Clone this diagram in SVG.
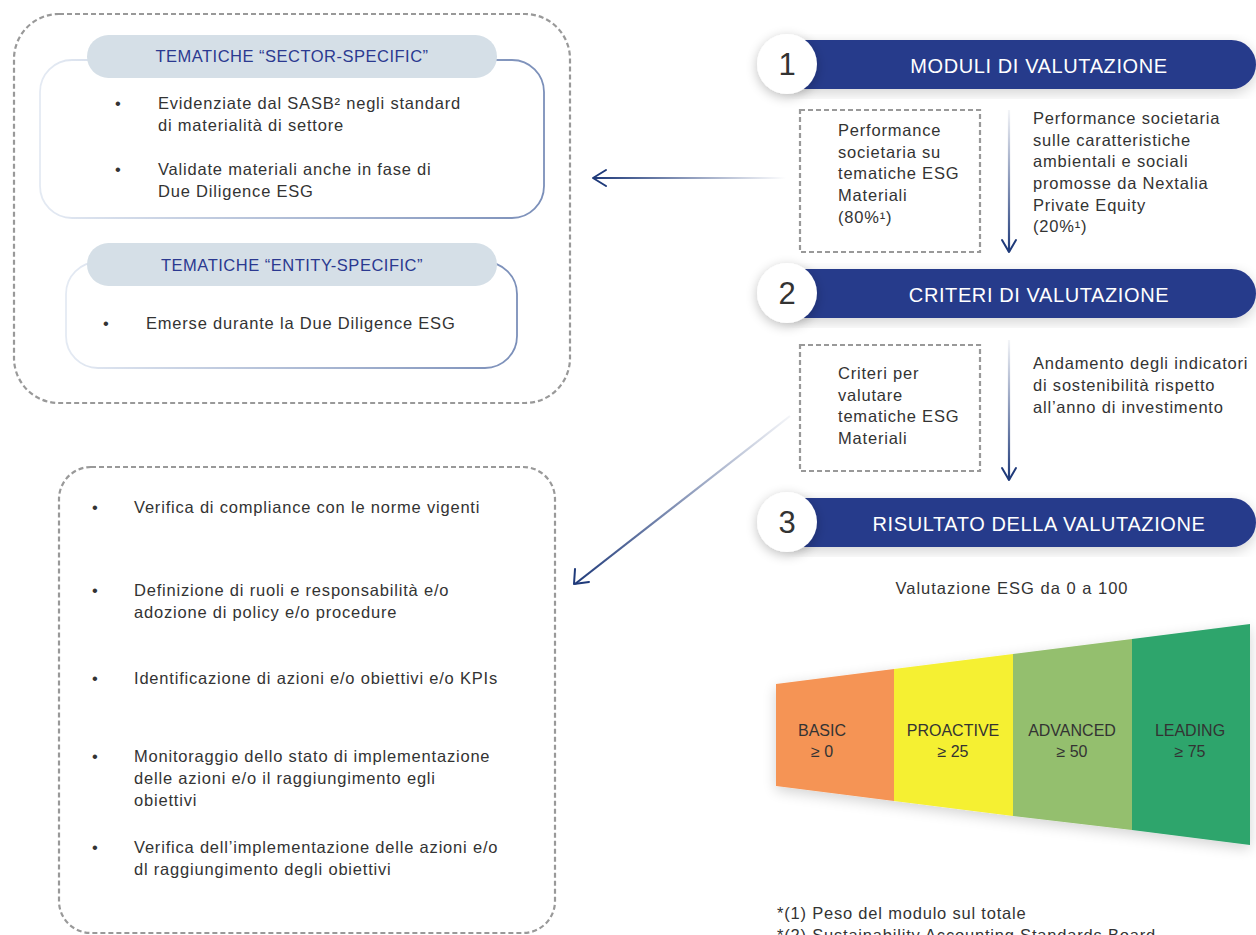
<svg xmlns="http://www.w3.org/2000/svg" width="1256" height="935" viewBox="0 0 1256 935">
<defs>
<style>
.t{font-family:"Liberation Sans",Arial,sans-serif;font-size:16.5px;letter-spacing:0.8px;fill:#333333}
.hd{font-family:"Liberation Sans",Arial,sans-serif;font-size:16.5px;letter-spacing:0.5px;fill:#2b3990;text-anchor:middle}
.bar{fill:#283a8b}
.bt{font-family:"Liberation Sans",Arial,sans-serif;font-size:20px;letter-spacing:0.6px;fill:#ffffff;text-anchor:middle}
.num{font-family:"Liberation Sans",Arial,sans-serif;font-size:31px;fill:#333333;text-anchor:middle}
.dash{fill:none;stroke:#999999;stroke-width:2.2;stroke-dasharray:5 3}
.pill{fill:#d5dfe7}
.lbl{font-family:"Liberation Sans",Arial,sans-serif;font-size:16px;fill:#333333;text-anchor:middle}
.sub{font-family:"Liberation Sans",Arial,sans-serif;font-size:16.5px;letter-spacing:1px;fill:#333333;text-anchor:middle}
.head{fill:none;stroke:#1f3a7a;stroke-width:2;stroke-linecap:round;stroke-linejoin:round}
</style>
<filter id="sh" x="-20%" y="-50%" width="140%" height="200%">
<feGaussianBlur in="SourceAlpha" stdDeviation="6"/>
<feOffset dx="0" dy="3" result="b"/>
<feComponentTransfer><feFuncA type="linear" slope="0.25"/></feComponentTransfer>
<feMerge><feMergeNode/><feMergeNode in="SourceGraphic"/></feMerge>
</filter>
<filter id="sh2" x="-10%" y="-20%" width="120%" height="140%">
<feGaussianBlur in="SourceAlpha" stdDeviation="7"/>
<feOffset dx="0" dy="4" result="b"/>
<feComponentTransfer><feFuncA type="linear" slope="0.18"/></feComponentTransfer>
<feMerge><feMergeNode/><feMergeNode in="SourceGraphic"/></feMerge>
</filter>
<linearGradient id="boxStroke" x1="0" y1="0" x2="1" y2="0">
<stop offset="0" stop-color="#e4eaf3"/>
<stop offset="1" stop-color="#7b8fb9"/>
</linearGradient>
<linearGradient id="hArrow" gradientUnits="userSpaceOnUse" x1="594" y1="0" x2="786" y2="0">
<stop offset="0" stop-color="#1f3a7a"/>
<stop offset="1" stop-color="#1f3a7a" stop-opacity="0"/>
</linearGradient>
<linearGradient id="dArrow" gradientUnits="userSpaceOnUse" x1="574" y1="584" x2="790" y2="416">
<stop offset="0" stop-color="#1f3a7a"/>
<stop offset="1" stop-color="#1f3a7a" stop-opacity="0.05"/>
</linearGradient>
<linearGradient id="v1" gradientUnits="userSpaceOnUse" x1="0" y1="110" x2="0" y2="252">
<stop offset="0" stop-color="#1f3a7a" stop-opacity="0.05"/>
<stop offset="1" stop-color="#1f3a7a"/>
</linearGradient>
<linearGradient id="v2" gradientUnits="userSpaceOnUse" x1="0" y1="340" x2="0" y2="480">
<stop offset="0" stop-color="#1f3a7a" stop-opacity="0.05"/>
<stop offset="1" stop-color="#1f3a7a"/>
</linearGradient>
</defs>
<rect width="1256" height="935" fill="#ffffff"/>

<g id="tematiche-box">
<rect class="dash" x="14" y="14" width="556" height="389" rx="45"/>
</g>

<g id="sector-specific">
<rect x="40" y="60" width="504" height="158" rx="32" fill="#ffffff" stroke="url(#boxStroke)" stroke-width="1.8"/>
<rect class="pill" x="87" y="35" width="410" height="43" rx="21.5"/>
<text class="hd" x="292" y="62">TEMATICHE “SECTOR-SPECIFIC”</text>
<text class="t" x="115" y="109">•</text>
<text class="t" x="158" y="109">Evidenziate dal SASB² negli standard</text>
<text class="t" x="158" y="131">di materialità di settore</text>
<text class="t" x="115" y="175">•</text>
<text class="t" x="158" y="175">Validate materiali anche in fase di</text>
<text class="t" x="158" y="197">Due Diligence ESG</text>
</g>

<g id="entity-specific">
<rect x="66" y="262" width="451" height="106" rx="32" fill="#ffffff" stroke="url(#boxStroke)" stroke-width="1.8"/>
<rect class="pill" x="87" y="243" width="410" height="43" rx="21.5"/>
<text class="hd" x="292" y="271">TEMATICHE “ENTITY-SPECIFIC”</text>
<text class="t" x="103" y="329">•</text>
<text class="t" x="146" y="329">Emerse durante la Due Diligence ESG</text>
</g>

<g id="criteri-box">
<rect class="dash" x="59" y="467" width="496" height="466" rx="32"/>
<text class="t" x="92" y="513">•</text>
<text class="t" x="134" y="513">Verifica di compliance con le norme vigenti</text>
<text class="t" x="92" y="596">•</text>
<text class="t" x="134" y="596">Definizione di ruoli e responsabilità e/o</text>
<text class="t" x="134" y="618">adozione di policy e/o procedure</text>
<text class="t" x="92" y="684">•</text>
<text class="t" x="134" y="684">Identificazione di azioni e/o obiettivi e/o KPIs</text>
<text class="t" x="92" y="762">•</text>
<text class="t" x="134" y="762">Monitoraggio dello stato di implementazione</text>
<text class="t" x="134" y="784">delle azioni e/o il raggiungimento egli</text>
<text class="t" x="134" y="806">obiettivi</text>
<text class="t" x="92" y="853">•</text>
<text class="t" x="134" y="853">Verifica dell’implementazione delle azioni e/o</text>
<text class="t" x="134" y="875">dl raggiungimento degli obiettivi</text>
</g>

<g id="step1">
<rect class="bar" x="780" y="40" width="476" height="49" rx="24.5" filter="url(#sh2)"/>
<circle cx="787" cy="64" r="30" fill="#ffffff" filter="url(#sh)"/>
<text class="num" x="787" y="75">1</text>
<text class="bt" x="1039" y="73">MODULI DI VALUTAZIONE</text>
</g>

<g id="modulo-materiali">
<rect class="dash" x="800" y="110" width="180" height="142"/>
<text class="t" x="838" y="136">Performance</text>
<text class="t" x="838" y="158">societaria su</text>
<text class="t" x="838" y="179">tematiche ESG</text>
<text class="t" x="838" y="201">Materiali</text>
<text class="t" x="838" y="223">(80%¹)</text>
</g>

<g id="modulo-caratteristiche">
<text class="t" x="1033" y="124">Performance societaria</text>
<text class="t" x="1033" y="146">sulle caratteristiche</text>
<text class="t" x="1033" y="167">ambientali e sociali</text>
<text class="t" x="1033" y="189">promosse da Nextalia</text>
<text class="t" x="1033" y="211">Private Equity</text>
<text class="t" x="1033" y="232">(20%¹)</text>
</g>

<g id="step2">
<rect class="bar" x="780" y="269" width="476" height="49" rx="24.5" filter="url(#sh2)"/>
<circle cx="787" cy="293" r="30" fill="#ffffff" filter="url(#sh)"/>
<text class="num" x="787" y="304">2</text>
<text class="bt" x="1039" y="302">CRITERI DI VALUTAZIONE</text>
</g>

<g id="criteri-materiali">
<rect class="dash" x="800" y="345" width="180" height="126"/>
<text class="t" x="838" y="379">Criteri per</text>
<text class="t" x="838" y="401">valutare</text>
<text class="t" x="838" y="422">tematiche ESG</text>
<text class="t" x="838" y="444">Materiali</text>
</g>

<g id="criteri-andamento">
<text class="t" x="1033" y="369">Andamento degli indicatori</text>
<text class="t" x="1033" y="391">di sostenibilità rispetto</text>
<text class="t" x="1033" y="413">all’anno di investimento</text>
</g>

<g id="step3">
<rect class="bar" x="780" y="498" width="476" height="49" rx="24.5" filter="url(#sh2)"/>
<circle cx="787" cy="522" r="30" fill="#ffffff" filter="url(#sh)"/>
<text class="num" x="787" y="533">3</text>
<text class="bt" x="1039" y="531">RISULTATO DELLA VALUTAZIONE</text>
</g>

<g id="valutazione">
<text class="sub" x="1012" y="594">Valutazione ESG da 0 a 100</text>
</g>

<g id="scala" filter="url(#sh2)">
<polygon points="776,684 894,669 894,801 776,786" fill="#f59455"/>
<polygon points="894,669 1013,654 1013,816 894,801" fill="#f5f032"/>
<polygon points="1013,654 1132,639 1132,830 1013,816" fill="#94bf6e"/>
<polygon points="1132,639 1250,624 1250,845 1132,830" fill="#2fa56c"/>
</g>
<g id="scala-labels">
<text class="lbl" x="822" y="736">BASIC</text>
<text class="lbl" x="822" y="757">≥ 0</text>
<text class="lbl" x="953" y="736">PROACTIVE</text>
<text class="lbl" x="953" y="757">≥ 25</text>
<text class="lbl" x="1072" y="736">ADVANCED</text>
<text class="lbl" x="1072" y="757">≥ 50</text>
<text class="lbl" x="1190" y="736">LEADING</text>
<text class="lbl" x="1190" y="757">≥ 75</text>
</g>

<g id="note">
<text class="t" x="777" y="919">*(1) Peso del modulo sul totale</text>
<text class="t" x="777" y="941">*(2) Sustainability Accounting Standards Board</text>
</g>

<g id="connectors">
<line x1="786" y1="178" x2="594" y2="178" stroke="url(#hArrow)" stroke-width="2.2"/>
<polyline class="head" points="606,170 593,178 606,186"/>
<line x1="790" y1="416" x2="575" y2="584" stroke="url(#dArrow)" stroke-width="2.2"/>
<polyline class="head" points="575,569 574,584 589,582"/>
<line x1="1009" y1="110" x2="1009" y2="252" stroke="url(#v1)" stroke-width="2.2"/>
<polyline class="head" points="1002,240 1009,252 1016,240"/>
<line x1="1009" y1="340" x2="1009" y2="480" stroke="url(#v2)" stroke-width="2.2"/>
<polyline class="head" points="1002,468 1009,480 1016,468"/>
</g>
</svg>
